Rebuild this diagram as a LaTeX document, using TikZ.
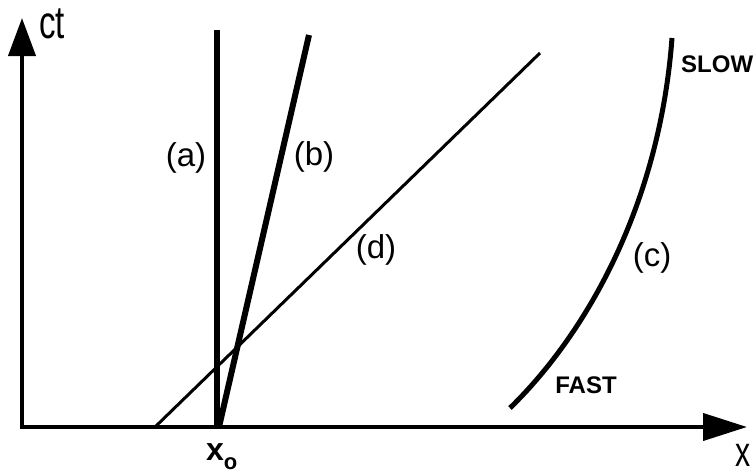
\documentclass[tikz,border=0pt]{standalone}
\usepackage{fontspec}
\setmainfont{Liberation Sans}
\newfontfamily\narrowsf[FakeStretch=0.72]{Liberation Sans}
\usetikzlibrary{arrows.meta}
\tikzset{
  axis/.style={line width=4pt, line join=miter,
               {Triangle[length=38pt,width=27pt]}-{Triangle[length=44pt,width=27pt]}},
  wline/.style={line width=6pt},
  cline/.style={line width=5pt},
  thinline/.style={line width=3pt},
  lbl/.style={font=\fontsize{33}{36}\selectfont, inner sep=0pt},
  speed/.style={font=\fontsize{24}{28}\selectfont\bfseries, inner sep=0pt},
  axlbl/.style={font=\narrowsf\fontsize{46}{50}\selectfont, inner sep=0pt},
}

\begin{document}
\begin{tikzpicture}[x=1pt, y=-1pt]
  \useasboundingbox (0,0) rectangle (753,474);
  \coordinate (ctend) at (22,18);
  \coordinate (xend) at (747,427);
  \coordinate (xo) at (217,427);
  \coordinate (atop) at (217,30);
  \coordinate (bbot) at (219,427);
  \coordinate (btop) at (309,35);
  \coordinate (dbot) at (155,427);
  \coordinate (dtop) at (540,53);
  \coordinate (cbot) at (510,408);
  \coordinate (ctop) at (672,38);

  % axes
  \draw[axis] (ctend) |- (xend);
  \node[axlbl, anchor=base west] (ct) at (39,38) {ct};
  \node[axlbl, font=\narrowsf\fontsize{42}{44}\selectfont] (xlab) at (743,455) {x};
  \node[anchor=base west, inner sep=0pt, font=\fontsize{32}{34}\selectfont\bfseries]
       (xolab) at (206,460) {x\raisebox{-9pt}{\fontsize{22}{24}\selectfont o}};

  % world lines
  \draw[wline] (xo) -- (atop);
  \draw[wline] (bbot) -- (btop);
  \draw[thinline] (dbot) -- (dtop);
  \draw[cline] (cbot) .. controls (590,330) and (660,200) .. (ctop);

  \node[lbl] (la) at (186,158) {(a)};
  \node[lbl] (lb) at (314,157) {(b)};
  \node[lbl] (ld) at (376,250) {(d)};
  \node[lbl] (lc) at (652,258) {(c)};
  \node[speed, anchor=west] (slow) at (681,64) {SLOW};
  \node[speed] (fast) at (586,385) {FAST};
\end{tikzpicture}
\end{document}
